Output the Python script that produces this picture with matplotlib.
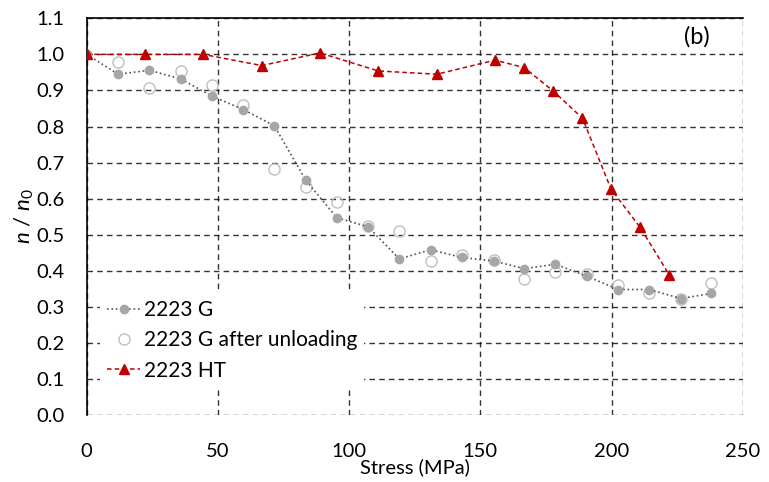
import matplotlib
matplotlib.use('Agg')
import matplotlib.pyplot as plt

plt.rcParams['font.family'] = ['Lato', 'DejaVu Sans']
plt.rcParams['mathtext.fontset'] = 'custom'
plt.rcParams['mathtext.rm'] = 'Lato'
plt.rcParams['mathtext.it'] = 'Lato:italic'

# 2223 G
g_stress = [0, 12, 23.9, 35.8, 47.8, 59.7, 71.5, 83.5, 95.3, 107.2, 119.1,
            131, 142.9, 155, 166.7, 178.6, 190.5, 202.5, 214.3, 226.4, 238]
g_ratio = [1.0, 0.945, 0.956, 0.932, 0.884, 0.847, 0.802, 0.651, 0.547, 0.522, 0.433,
           0.458, 0.437, 0.427, 0.406, 0.418, 0.385, 0.348, 0.348, 0.323, 0.337]

# 2223 G after unloading
u_stress = [12, 23.9, 35.8, 47.8, 59.7, 71.5, 83.5, 95.3, 107.2, 119.1,
            131, 142.9, 155, 166.7, 178.6, 190.5, 202.5, 214.3, 226.4, 238]
u_ratio = [0.980, 0.907, 0.955, 0.915, 0.861, 0.682, 0.633, 0.591, 0.525, 0.509,
           0.427, 0.445, 0.43, 0.378, 0.397, 0.39, 0.360, 0.339, 0.322, 0.365]

# 2223 HT
ht_stress = [0, 22.3, 44.4, 66.7, 88.9, 111.1, 133.4, 155.6, 166.8, 177.8,
             188.9, 199.8, 210.9, 222.0]
ht_ratio = [1.0, 1.0, 1.0, 0.969, 1.004, 0.954, 0.945, 0.984, 0.963, 0.898,
            0.823, 0.626, 0.520, 0.388]

fig = plt.figure(figsize=(7.69, 4.82), dpi=100)
ax = fig.add_axes([0.1127, 0.139, 0.8533, 0.823])

ax.plot(g_stress, g_ratio, linestyle=':', color='#44546A', linewidth=1.2,
        marker='o', markersize=6, markerfacecolor='#A6A6A6', markeredgecolor='#A6A6A6',
        label='2223 G', zorder=3)
ax.plot(u_stress, u_ratio, linestyle='none', marker='o', markersize=8,
        markerfacecolor='none', markeredgecolor='#BFBFBF', markeredgewidth=1.0,
        label='2223 G after unloading', zorder=2)
ax.plot(ht_stress, ht_ratio, linestyle='--', color='#C00000', linewidth=1.1,
        dashes=(3, 2), marker='^', markersize=7, markerfacecolor='#C00000',
        markeredgecolor='#C00000', label='2223 HT', zorder=4)

ax.set_xlim(0, 250)
ax.set_ylim(0, 1.1)
ax.set_xticks([0, 50, 100, 150, 200, 250])
ax.set_yticks([i / 10 for i in range(12)])
ax.set_yticklabels([f'{i / 10:.1f}' for i in range(12)])
ax.tick_params(length=0, labelsize=14.5)
ax.tick_params(axis='x', pad=20)
ax.tick_params(axis='y', pad=16)

# dashed grid, solid left/top frame
ax.grid(True, color='black', linestyle=(0, (4, 3)), linewidth=1.0, alpha=0.8)
ax.set_axisbelow(True)
for side in ['bottom', 'right']:
    ax.spines[side].set_visible(False)
for side in ['left', 'top']:
    ax.spines[side].set_linewidth(1.2)

ax.set_xlabel('Stress (MPa)', fontsize=14.5, labelpad=-1)
ax.set_ylabel(r'$n$ / $n_0$', fontsize=16, labelpad=0)

ax.text(0.93, 0.953, '(b)', transform=ax.transAxes, fontsize=17, ha='center', va='center')

ax.legend(loc='lower left', bbox_to_anchor=(0.02, 0.068), fontsize=15,
          frameon=True, fancybox=False, edgecolor='none', framealpha=1.0,
          handlelength=1.6, handletextpad=0.15, borderaxespad=0.0,
          borderpad=0.35, labelspacing=0.5)

fig.savefig('out.png', dpi=100)
